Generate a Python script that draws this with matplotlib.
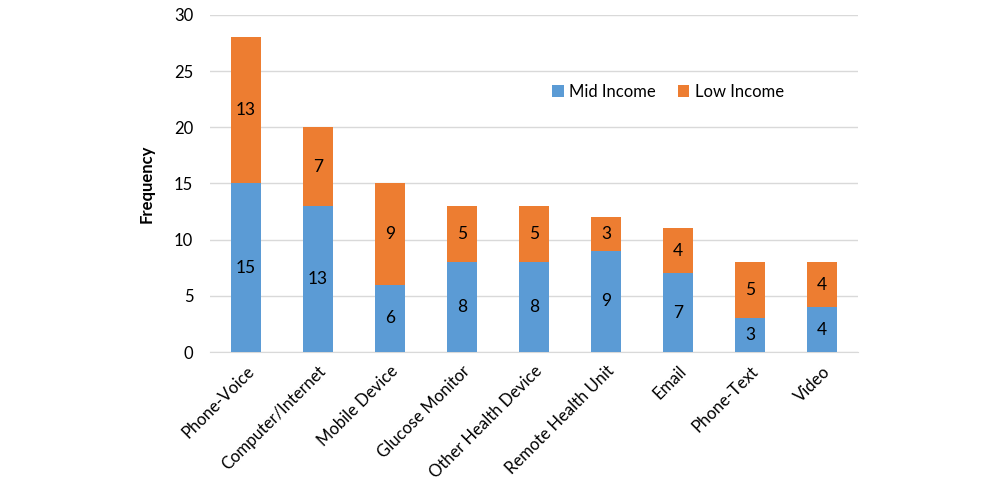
import matplotlib.pyplot as plt
import numpy as np

plt.rcParams['font.family'] = ['Lato', 'DejaVu Sans']

categorias = ['Phone-Voice', 'Computer/Internet', 'Mobile Device', 'Glucose Monitor',
              'Other Health Device', 'Remote Health Unit', 'Email', 'Phone-Text', 'Video']
mid_income = [15, 13, 6, 8, 8, 9, 7, 3, 4]
low_income = [13, 7, 9, 5, 5, 3, 4, 5, 4]

cor_mid = '#5B9BD5'
cor_low = '#ED7D31'

fig = plt.figure(figsize=(10, 5.01), dpi=100)
ax = fig.add_axes([0.21, 0.2974, 0.648, 0.6727])

x = np.arange(len(categorias))
largura = 0.42
ax.bar(x, mid_income, largura, color=cor_mid, label='Mid Income', zorder=3)
ax.bar(x, low_income, largura, bottom=mid_income, color=cor_low, label='Low Income', zorder=3)

# rótulos dentro das barras
for i in range(len(categorias)):
    ax.text(x[i], mid_income[i] / 2, str(mid_income[i]), ha='center', va='center',
            fontsize=12.5, color='#000000', zorder=4)
    ax.text(x[i], mid_income[i] + low_income[i] / 2, str(low_income[i]), ha='center',
            va='center', fontsize=12.5, color='#000000', zorder=4)

ax.set_xlim(-0.5, len(categorias) - 0.5)
ax.set_ylim(0, 30)
ax.set_yticks(range(0, 31, 5))
ax.yaxis.grid(True, color='#D9D9D9', linewidth=1, zorder=0)
ax.set_axisbelow(True)
for lado in ['top', 'right', 'left']:
    ax.spines[lado].set_visible(False)
ax.spines['bottom'].set_color('#D9D9D9')
ax.tick_params(axis='both', length=0, labelsize=12, colors='#000000')
ax.tick_params(axis='y', pad=12)
ax.set_xticks(x)
ax.set_xticklabels(categorias, rotation=45, ha='right', rotation_mode='anchor', fontsize=12)
ax.tick_params(axis='x', pad=8)
ax.set_ylabel('Frequency', fontsize=12, fontweight='bold', labelpad=14)

ax.legend(loc='center', bbox_to_anchor=(0.707, 0.772), ncol=2, frameon=False,
          fontsize=12, handlelength=0.7, handleheight=0.7, columnspacing=1.3,
          handletextpad=0.35)

fig.savefig('out.png', dpi=100, facecolor='white')
